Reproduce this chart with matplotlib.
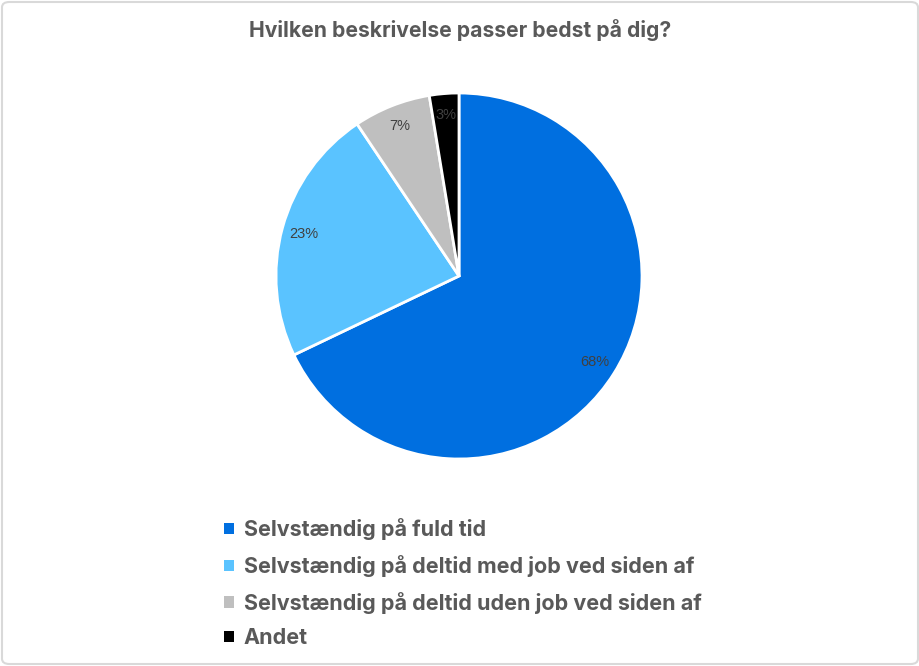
import matplotlib
matplotlib.use("Agg")
import matplotlib.pyplot as plt
from matplotlib.patches import Patch, FancyBboxPatch

categories = ["Selvstændig på fuld tid",
              "Selvstændig på deltid med job ved siden af",
              "Selvstændig på deltid uden job ved siden af",
              "Andet"]
values = [67.9, 22.7, 6.8, 2.6]
colors = ["#006FE0", "#5AC3FF", "#BFBFBF", "#000000"]
title = "Hvilken beskrivelse passer bedst på dig?"

W, H = 920, 666
fig = plt.figure(figsize=(W / 100, H / 100), dpi=100)
fig.patch.set_facecolor("white")

border = FancyBboxPatch((2 / W, 2 / H), 1 - 4 / W, 1 - 4 / H,
                        boxstyle="round,pad=0,rounding_size=0.008",
                        transform=fig.transFigure, fill=False,
                        edgecolor="#D9D9D9", linewidth=1.5)
fig.patches.append(border)

cx, cy, r = 459, H - 276, 183
ax = fig.add_axes([(cx - r) / W, (cy - r) / H, 2 * r / W, 2 * r / H])
wedges, texts, autotexts = ax.pie(
    values, colors=colors, startangle=90, counterclock=False,
    autopct="%.0f%%", pctdistance=0.88,
    wedgeprops=dict(edgecolor="white", linewidth=2),
    textprops=dict(family="Liberation Sans", fontsize=10.5, color="#404040"))
ax.set_xlim(-1, 1)
ax.set_ylim(-1, 1)
ax.set_aspect("equal")
ax.axis("off")

fig.text(0.5, 1 - 30 / H, title, ha="center", va="center",
         fontsize=15.2, family="Inter", weight="bold", color="#595959")

handles = [Patch(facecolor=c, edgecolor="none") for c in colors]
leg = fig.legend(handles, categories, loc="upper left",
                 bbox_to_anchor=(205 / W, 1 - 499 / H),
                 frameon=False, handlelength=0.45, handleheight=0.45,
                 handletextpad=0.45, labelspacing=0.68,
                 prop=dict(family="Inter", weight="bold", size=15.5))
for t in leg.get_texts():
    t.set_color("#595959")

fig.savefig("out.png", dpi=100)
